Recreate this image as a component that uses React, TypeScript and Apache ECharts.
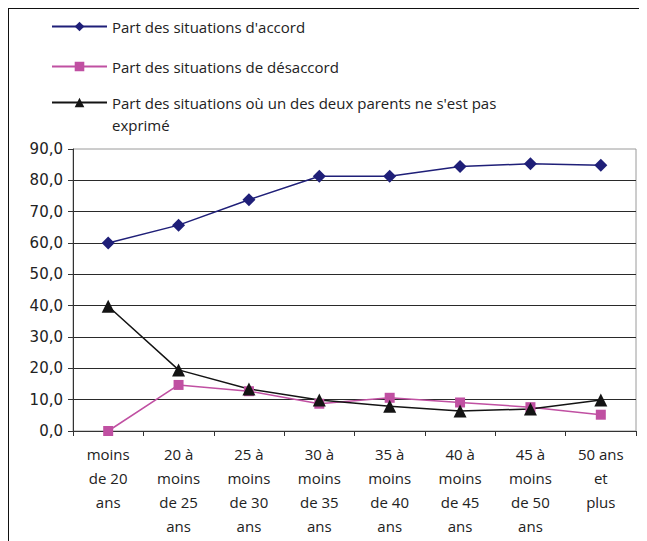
import React, { useEffect, useRef } from "react";
import * as echarts from "echarts";

const categories = [
  "moins\nde 20\nans",
  "20 à\nmoins\nde 25\nans",
  "25 à\nmoins\nde 30\nans",
  "30 à\nmoins\nde 35\nans",
  "35 à\nmoins\nde 40\nans",
  "40 à\nmoins\nde 45\nans",
  "45 à\nmoins\nde 50\nans",
  "50 ans\net\nplus",
];
const accord = [60.0, 65.7, 73.8, 81.3, 81.3, 84.4, 85.3, 84.8];
const desaccord = [0.0, 14.7, 12.7, 8.7, 10.6, 9.1, 7.6, 5.2];
const nonExprime = [39.8, 19.5, 13.4, 9.9, 7.9, 6.4, 7.0, 9.9];
const seriesNames = [
  "Part des situations d'accord",
  "Part des situations de désaccord",
  "Part des situations où un des deux parents ne s'est pas exprimé",
];

const NAVY = "#1f1f78";
const PINK = "#c050a2";
const BLACK = "#141414";

export default function App() {
  const ref = useRef<HTMLDivElement>(null);
  useEffect(() => {
    if (!ref.current) return;
    const chart = echarts.init(ref.current, null, { renderer: "svg" });
    const legendText = {
      fontFamily: "Open Sans",
      fontSize: 15,
      color: "#222",
    };
    const mkLegend = (name: string, top: number, formatter?: (n: string) => string) => ({
      data: [name],
      left: 37,
      top,
      itemWidth: 55,
      itemHeight: 12,
      itemGap: 6,
      textStyle: legendText,
      selectedMode: false,
      formatter,
    });
    chart.setOption({
      animation: false,
      backgroundColor: "#fff",
      legend: [
        mkLegend(seriesNames[0], 5),
        mkLegend(seriesNames[1], 45),
        mkLegend(seriesNames[2], 81, () => "Part des situations où un des deux parents ne s'est pas"),
      ],
      graphic: [
        {
          type: "text",
          left: 103,
          top: 108,
          style: { text: "exprimé", font: "15px 'Open Sans'", fill: "#222" },
        },
      ],
      grid: {
        left: 64,
        right: 11,
        top: 140,
        bottom: 110,
        show: true,
        borderColor: "#9a9a9a",
        borderWidth: 1,
      },
      xAxis: {
        type: "category",
        data: categories,
        boundaryGap: true,
        axisLine: { lineStyle: { color: "#333", width: 1 } },
        axisTick: { show: true, length: 5, lineStyle: { color: "#333" } },
        axisLabel: {
          interval: 0,
          margin: 11,
          fontFamily: "Open Sans",
          fontSize: 15,
          lineHeight: 24,
          color: "#222",
        },
      },
      yAxis: {
        type: "value",
        min: 0,
        max: 90,
        interval: 10,
        axisLine: { show: true, lineStyle: { color: "#333", width: 1 } },
        axisTick: { show: true, length: 5, lineStyle: { color: "#333" } },
        axisLabel: {
          margin: 10,
          fontFamily: "DejaVu Sans",
          fontSize: 15,
          color: "#222",
          formatter: (v: number) => v.toFixed(1).replace(".", ","),
        },
        splitLine: {
          show: true,
          showMaxLine: false,
          lineStyle: { color: "#2a2a2a", width: 1 },
        },
      },
      series: [
        {
          name: seriesNames[0],
          type: "line",
          data: accord,
          symbol: "diamond",
          symbolSize: 13,
          lineStyle: { color: NAVY, width: 1.5 },
          itemStyle: { color: NAVY },
        },
        {
          name: seriesNames[1],
          type: "line",
          data: desaccord,
          symbol: "rect",
          symbolSize: 10,
          lineStyle: { color: PINK, width: 1.5 },
          itemStyle: { color: PINK },
        },
        {
          name: seriesNames[2],
          type: "line",
          data: nonExprime,
          symbol: "triangle",
          symbolSize: 13,
          lineStyle: { color: BLACK, width: 1.5 },
          itemStyle: { color: BLACK },
        },
      ],
    });
    return () => chart.dispose();
  }, []);
  return (
    <div
      ref={ref}
      style={{
        width: 639,
        height: 533,
        borderLeft: "1px solid #111",
        borderTop: "1px solid #111",
        boxSizing: "border-box",
      }}
    />
  );
}
